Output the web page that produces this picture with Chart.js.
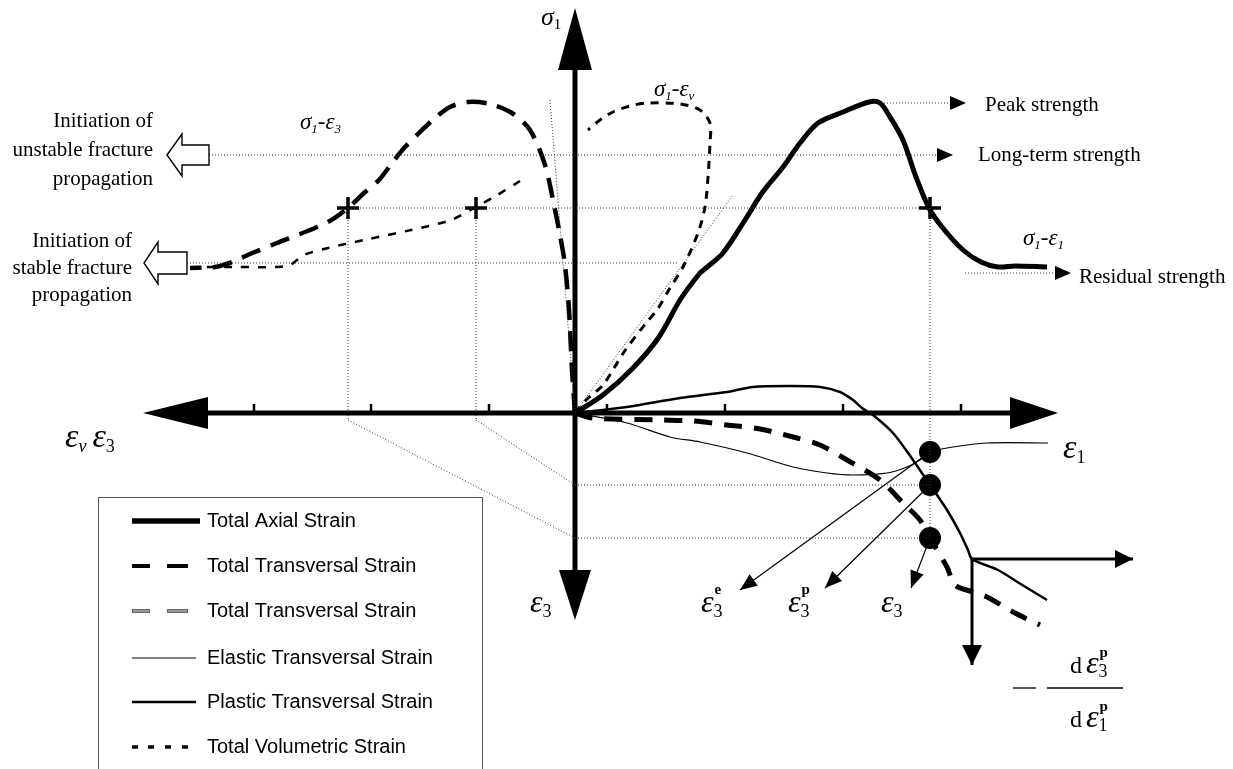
<!DOCTYPE html>
<html>
<head>
<meta charset="utf-8">
<script src="https://cdn.jsdelivr.net/npm/chart.js@4.4.1/dist/chart.umd.min.js"></script>
<style>
  html, body { margin: 0; padding: 0; background: #fff; }
</style>
</head>
<body>
<canvas id="myChart" width="1233" height="769"></canvas>
<script>
// schematic units: strain to the right / stress upward, origin where the axes cross
var axialStrain = [0, 2.8, 5.8, 8.4, 10.5, 12.5, 13.1, 14.8, 17.0, 18.7, 20.8, 22.5, 24.3, 26.8, 29.4, 30.5, 31.5, 32.8, 34.1, 35.4, 36.7, 38.8, 40.6, 42.3, 44.0, 47.2];
var axialStress = [0, 1.8, 4.5, 7.6, 11.3, 14.0, 14.5, 16.0, 19.3, 22.0, 24.6, 27.0, 29.0, 30.1, 31.1, 31.0, 29.6, 27.3, 23.6, 20.5, 18.6, 16.3, 15.1, 14.6, 14.7, 14.6];

var transStrain = [0, -0.3, -0.6, -1.0, -1.5, -2.1, -3.0, -4.5, -6.3, -8.5, -10.7, -12.5, -14.0, -15.5, -17.0, -18.3, -19.6, -21.1, -22.7, -24.7, -27.5, -29.8, -32.5, -34.3, -36.0, -38.5];
var transStress = [0, 4.3, 10.3, 14.8, 17.8, 20.8, 24.8, 28.3, 30.0, 30.9, 31.1, 30.6, 29.5, 28.1, 26.6, 25.0, 23.3, 22.0, 20.5, 19.1, 17.9, 17.0, 15.9, 15.1, 14.6, 14.5];

var volStrainA = [0, 1.1, 2.8, 4.9, 7.1, 8.2, 9.5, 10.8, 12.3, 13.0, 13.3, 13.5, 13.5, 12.5, 10.5, 7.2, 5.5, 3.8, 2.5, 1.3];
var volStressA = [0, 1.3, 2.8, 6.1, 9.0, 10.3, 12.5, 14.6, 18.0, 20.6, 23.6, 27.0, 29.0, 30.3, 30.9, 31.0, 30.7, 30.1, 29.3, 28.3];
var volStrainB = [-5.5, -8.1, -10.1, -12.4, -16.4, -21.1, -24.7, -27.1, -28.5, -29.8, -33.8, -37.0];
var volStressB = [23.2, 21.6, 20.5, 19.3, 18.3, 17.3, 16.5, 15.8, 14.8, 14.6, 14.6, 14.6];

// lower quadrant: transversal strain components against axial strain
var plasticE1 = [0, 5.2, 10.5, 15.2, 17.8, 21.5, 24.5, 26.5, 27.8, 28.7, 29.8, 31.8, 33.8, 35.5, 37.2, 38.5, 39.3, 39.7, 42.3, 44.4, 47.2];
var plasticE3 = [0, 0.6, 1.5, 2.1, 2.6, 2.7, 2.6, 2.1, 1.3, 0.5, -0.2, -2.0, -4.7, -7.2, -9.7, -12.0, -13.7, -14.6, -15.7, -17.0, -18.7];
var elasticE1 = [0, 5.2, 9.5, 12.5, 17.2, 21.8, 25.2, 27.8, 31.2, 33.2, 34.5, 35.5, 37.8, 41.2, 47.3];
var elasticE3 = [0, -1.0, -2.4, -2.9, -4.0, -5.4, -6.0, -6.2, -6.0, -5.4, -4.7, -3.9, -3.4, -3.0, -3.0];
var totalE1 = [0, 1.8, 8.5, 11.8, 15.2, 18.5, 21.8, 24.5, 27.2, 30.5, 32.8, 34.5, 35.5, 37.2, 38.0, 39.8, 41.2, 44.0, 46.5];
var totalE3 = [0, -0.5, -0.7, -0.8, -1.2, -1.6, -2.4, -3.2, -4.7, -6.7, -9.0, -10.7, -12.5, -15.4, -17.2, -17.9, -18.4, -20.0, -21.2];

// stress levels
var peakStress = 31.0, longTermStress = 25.8, damageStress = 20.5, initiationStress = 15.0, residualStress = 14.0;
var damageStrains = [-22.7, -9.9, 35.5];
var pickStrain = 35.5;
var pickE3 = [-3.9, -7.2, -12.5];       // elastic, plastic, total
var pickTips = [[16.5, -17.7], [25.0, -17.5], [33.6, -17.5]];
var strainTicks = [-32.1, -20.4, -8.6, 3.2, 15.0, 26.8, 38.6];
var axisEnds = { left: -43.2, right: 48.3, top: 40.5, bottom: -20.7 };
var rateCorner = [39.7, -14.6], rateRight = 55.8, rateDown = -25.2;

var legendLabels = ["Total Axial Strain", "Total Transversal Strain", "Total Transversal Strain",
                    "Elastic Transversal Strain", "Plastic Transversal Strain", "Total Volumetric Strain"];

function pts(xs, ys) { return xs.map(function (x, i) { return { x: x, y: ys[i] }; }); }
function curve(xs, ys, w, dash) {
  return { data: pts(xs, ys), showLine: true, pointRadius: 0, borderColor: "#000", borderWidth: w,
           borderDash: dash || [], borderCapStyle: "butt", tension: 0.3, fill: false };
}
function seg(a, b, w, dash, color) {
  return { data: [{ x: a[0], y: a[1] }, { x: b[0], y: b[1] }], showLine: true, pointRadius: 0,
           borderColor: color || "#000", borderWidth: w, borderDash: dash || [], tension: 0, fill: false };
}

var dot = [1, 2], grey = "#333";
var guides = [
  [[30.3, peakStress], [37.5, peakStress]],
  [[-36.6, longTermStress], [36.2, longTermStress]],
  [[-22.7, damageStress], [35.5, damageStress]],
  [[-38.8, initiationStress], [10.3, initiationStress]],
  [[39.0, residualStress], [48.0, residualStress]],
  [[-22.7, damageStress], [-22.7, -0.7]],
  [[-9.9, damageStress], [-9.9, -0.7]],
  [[pickStrain, damageStress], [pickStrain, pickE3[2]]],
  [[-22.7, -0.7], [0, pickE3[2]]],
  [[-9.9, -0.7], [0, pickE3[1]]],
  [[0, pickE3[1]], [pickStrain, pickE3[1]]],
  [[0, pickE3[2]], [pickStrain, pickE3[2]]],
  [[-2.5, 31.3], [0, 0]],
  [[0, 0], [15.8, 21.8]]
];

var datasets = [];
guides.forEach(function (g) { datasets.push(seg(g[0], g[1], 1, dot, grey)); });
datasets.push(curve(axialStrain, axialStress, 5));
datasets.push(curve(transStrain, transStress, 4.5, [20, 11]));
datasets.push(curve(volStrainA, volStressA, 3, [8, 7]));
datasets.push(curve(volStrainB, volStressB, 2.5, [8, 9]));
datasets.push(curve(plasticE1, plasticE3, 2.5));
datasets.push(curve(elasticE1, elasticE3, 1.2));
datasets.push(curve(totalE1, totalE3, 5, [18, 12]));
pickTips.forEach(function (t, i) { datasets.push(seg([pickStrain, pickE3[i]], t, 1.2)); });
datasets.push(seg(rateCorner, [rateRight, rateCorner[1]], 3));
datasets.push(seg(rateCorner, [rateCorner[0], rateDown], 3));
datasets.push({ data: damageStrains.map(function (x) { return { x: x, y: damageStress }; }),
  pointStyle: "cross", pointRadius: 11, borderWidth: 3.5, borderColor: "#000" });
datasets.push({ data: pickE3.map(function (y) { return { x: pickStrain, y: y }; }),
  pointStyle: "circle", pointRadius: 11, borderWidth: 0, backgroundColor: "#000" });

function head(c, tx, ty, dx, dy, len, half) {
  var n = Math.sqrt(dx * dx + dy * dy); dx /= n; dy /= n;
  var bx = tx - dx * len, by = ty - dy * len;
  c.beginPath(); c.moveTo(tx, ty);
  c.lineTo(bx - dy * half, by + dx * half); c.lineTo(bx + dy * half, by - dx * half);
  c.closePath(); c.fill();
}
function runs(c, x, y, parts) {
  var cx = x;
  parts.forEach(function (p) {
    c.font = (p.i ? "italic " : "") + (p.b ? "bold " : "") + p.s + "px 'Liberation Serif'";
    c.fillText(p.t, cx, y + (p.dy || 0));
    cx += c.measureText(p.t).width + (p.gap || 0);
  });
}
function hollow(c, tx, ty, headLen, headHalf, bodyLen, bodyHalf) {
  c.beginPath(); c.moveTo(tx, ty);
  c.lineTo(tx + headLen, ty - headHalf); c.lineTo(tx + headLen, ty - bodyHalf);
  c.lineTo(tx + headLen + bodyLen, ty - bodyHalf); c.lineTo(tx + headLen + bodyLen, ty + bodyHalf);
  c.lineTo(tx + headLen, ty + bodyHalf); c.lineTo(tx + headLen, ty + headHalf); c.closePath();
  c.fillStyle = "#fff"; c.fill(); c.lineWidth = 1.4; c.strokeStyle = "#000"; c.stroke();
}

var sketch = {
  id: "sketch",
  beforeDatasetsDraw: function (chart) {
    var c = chart.ctx, sx = chart.scales.x, sy = chart.scales.y;
    var X = function (v) { return sx.getPixelForValue(v); }, Y = function (v) { return sy.getPixelForValue(v); };
    c.save();
    c.fillStyle = "#000"; c.strokeStyle = "#000"; c.lineWidth = 5;
    c.beginPath(); c.moveTo(X(axisEnds.left) + 60, Y(0)); c.lineTo(X(axisEnds.right) - 44, Y(0)); c.stroke();
    c.beginPath(); c.moveTo(X(0), Y(axisEnds.top) + 58); c.lineTo(X(0), Y(axisEnds.bottom) - 46); c.stroke();
    head(c, X(axisEnds.left), Y(0), -1, 0, 65, 16);
    head(c, X(axisEnds.right), Y(0), 1, 0, 48, 16);
    head(c, X(0), Y(axisEnds.top), 0, -1, 62, 17);
    head(c, X(0), Y(axisEnds.bottom), 0, 1, 50, 16);
    c.lineWidth = 2.5;
    strainTicks.forEach(function (t) {
      c.beginPath(); c.moveTo(X(t), Y(0)); c.lineTo(X(t), Y(0) - 9); c.stroke();
    });
    c.restore();
  },
  afterDatasetsDraw: function (chart) {
    var c = chart.ctx, sx = chart.scales.x, sy = chart.scales.y;
    var X = function (v) { return sx.getPixelForValue(v); }, Y = function (v) { return sy.getPixelForValue(v); };
    c.save();
    c.fillStyle = "#000";
    // arrowheads of the strength guides
    head(c, X(39.1), Y(peakStress), 1, 0, 16, 7);
    head(c, X(37.8), Y(longTermStress), 1, 0, 16, 7);
    head(c, X(49.6), Y(residualStress), 1, 0, 16, 7);
    // arrows leaving the picked points
    pickTips.forEach(function (t, i) {
      head(c, X(t[0]), Y(t[1]), X(t[0]) - X(pickStrain), Y(t[1]) - Y(pickE3[i]), 17, 7);
    });
    head(c, X(rateRight), Y(rateCorner[1]), 1, 0, 18, 9);
    head(c, X(rateCorner[0]), Y(rateDown), 0, 1, 20, 10);

    // hollow arrows + their captions
    hollow(c, X(-40.8), Y(longTermStress), 15, 21, 27, 10);
    hollow(c, X(-43.1), Y(initiationStress), 14, 21, 29, 11);
    c.fillStyle = "#000"; c.textAlign = "right"; c.textBaseline = "middle";
    c.font = "21px 'Liberation Serif'";
    [["Initiation of", 121], ["unstable fracture", 150], ["propagation", 179]].forEach(function (l) {
      c.fillText(l[0], X(-42.2), l[1]);
    });
    [["Initiation of", 241], ["stable fracture", 268], ["propagation", 295]].forEach(function (l) {
      c.fillText(l[0], X(-44.3), l[1]);
    });
    c.textAlign = "left";
    c.fillText("Peak strength", X(41.0), Y(30.8));
    c.fillText("Long-term strength", X(40.3), Y(longTermStress));
    c.fillText("Residual strength", X(50.4), Y(13.6));

    // math labels
    c.textBaseline = "alphabetic";
    runs(c, X(-3.4), Y(38.8), [{ t: "\u03c3", s: 26, i: true }, { t: "1", s: 15, dy: 4 }]);
    runs(c, X(-27.5), Y(28.4), [{ t: "\u03c3", s: 23, i: true }, { t: "1", s: 13, i: true, dy: 4 },
      { t: "-", s: 23 }, { t: "\u03b5", s: 23, i: true }, { t: "3", s: 13, i: true, dy: 4 }]);
    runs(c, X(7.9), Y(31.7), [{ t: "\u03c3", s: 23, i: true }, { t: "1", s: 13, i: true, dy: 4 },
      { t: "-", s: 23 }, { t: "\u03b5", s: 23, i: true }, { t: "v", s: 13, i: true, dy: 4 }]);
    runs(c, X(44.8), Y(16.8), [{ t: "\u03c3", s: 23, i: true }, { t: "1", s: 13, i: true, dy: 4 },
      { t: "-", s: 23 }, { t: "\u03b5", s: 23, i: true }, { t: "1", s: 13, i: true, dy: 4 }]);
    runs(c, X(-51.0), Y(-3.4), [{ t: "\u03b5", s: 34, i: true }, { t: "v", s: 18, i: true, dy: 5, gap: 6 },
      { t: "\u03b5", s: 34, i: true }, { t: "3", s: 18, dy: 5 }]);
    runs(c, X(48.8), Y(-4.5), [{ t: "\u03b5", s: 34, i: true }, { t: "1", s: 18, dy: 5 }]);
    runs(c, X(-4.5), Y(-19.9), [{ t: "\u03b5", s: 32, i: true }, { t: "3", s: 18, dy: 5 }]);
    runs(c, X(12.6), Y(-19.9), [{ t: "\u03b5", s: 32, i: true }, { t: "3", s: 18, dy: 5, gap: -8 }, { t: "e", s: 15, b: true, dy: -18 }]);
    runs(c, X(21.3), Y(-19.9), [{ t: "\u03b5", s: 32, i: true }, { t: "3", s: 18, dy: 5, gap: -8 }, { t: "p", s: 15, b: true, dy: -18 }]);
    runs(c, X(30.6), Y(-19.9), [{ t: "\u03b5", s: 32, i: true }, { t: "3", s: 18, dy: 5 }]);
    // - d e3p / d e1p
    c.lineWidth = 1.3;
    c.beginPath(); c.moveTo(X(43.8), Y(-27.5)); c.lineTo(X(46.1), Y(-27.5)); c.stroke();
    c.beginPath(); c.moveTo(X(47.2), Y(-27.5)); c.lineTo(X(54.8), Y(-27.5)); c.stroke();
    runs(c, X(49.5), Y(-26.0), [{ t: "d", s: 24, gap: 4 }, { t: "\u03b5", s: 32, i: true }, { t: "3", s: 18, dy: 4, gap: -8 }, { t: "p", s: 15, b: true, dy: -16 }]);
    runs(c, X(49.5), Y(-31.4), [{ t: "d", s: 24, gap: 4 }, { t: "\u03b5", s: 32, i: true }, { t: "1", s: 18, dy: 4, gap: -8 }, { t: "p", s: 15, b: true, dy: -16 }]);

    // legend
    c.strokeStyle = "#555"; c.lineWidth = 1;
    c.strokeRect(98.5, 497.5, 384, 290);
    var rows = [521, 566, 611, 658, 702, 747];
    function ln(x1, x2, y, w, col) { c.strokeStyle = col || "#000"; c.lineWidth = w; c.beginPath(); c.moveTo(x1, y); c.lineTo(x2, y); c.stroke(); }
    ln(132, 200, rows[0], 5.5);
    ln(132, 150, rows[1], 4); ln(167, 188, rows[1], 4);
    ln(132, 150, rows[2], 4, "#666"); ln(167, 188, rows[2], 4, "#666");
    ln(133, 149, rows[2], 1, "#ccc"); ln(168, 187, rows[2], 1, "#ccc");
    ln(132, 196, rows[3], 1);
    ln(132, 196, rows[4], 2.5);
    [132, 148, 165, 182].forEach(function (x) { ln(x, x + 6, rows[5], 3.5); });
    c.fillStyle = "#000"; c.textAlign = "left"; c.textBaseline = "middle";
    c.font = "20px 'Liberation Sans'";
    legendLabels.forEach(function (t, i) { c.fillText(t, 207, rows[i]); });
    c.restore();
  }
};

new Chart("myChart", {
  type: "scatter",
  data: { datasets: datasets },
  options: {
    responsive: false,
    animation: false,
    layout: { padding: 0, autoPadding: false },
    plugins: { legend: { display: false }, tooltip: { enabled: false } },
    scales: {
      x: { type: "linear", display: false, min: -57.5, max: 65.8 },
      y: { type: "linear", display: false, min: -35.6, max: 41.3 }
    }
  },
  plugins: [sketch]
});
</script>
</body>
</html>
